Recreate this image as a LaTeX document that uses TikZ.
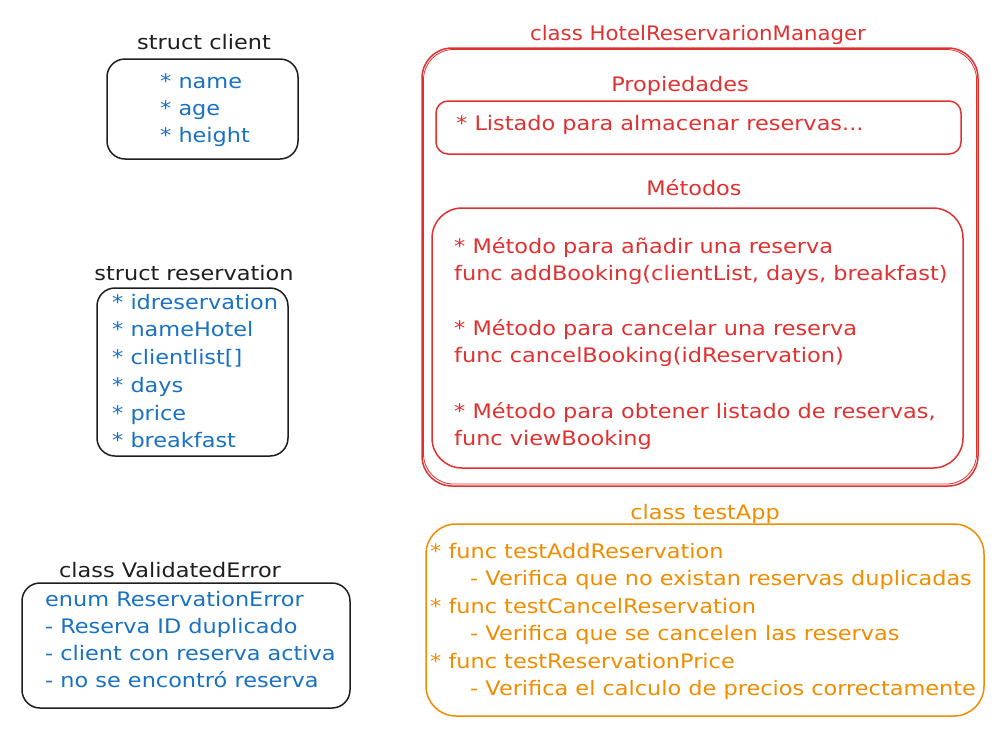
\documentclass[tikz,border=0pt]{standalone}
\usepackage{fontspec}
\setmainfont{DejaVu Sans}[FakeStretch=1.12]
\definecolor{inkblack}{HTML}{1E1E1E}
\definecolor{inkblue}{HTML}{1971C2}
\definecolor{inkred}{HTML}{E03131}
\definecolor{inkorange}{HTML}{F08C00}
\begin{document}
\begin{tikzpicture}[x=1pt,y=-1pt,
  txt/.style={anchor=base west,inner sep=0pt,font=\fontsize{20}{24}\selectfont},
  ttl/.style={anchor=base,inner sep=0pt,font=\fontsize{20}{24}\selectfont},
  sbox/.style={draw,line width=1.5pt,rounded corners=18pt},
  bbox/.style={draw,line width=1.5pt,rounded corners=30pt}]
\useasboundingbox (0,0) rectangle (1005,729);
% struct client
\node[ttl,text=inkblack] (tclient) at (204,49) {struct client};
\draw[sbox,inkblack] (107,59) rectangle (298,159);
\node[txt,text=inkblue] (c1) at (160,88) {* name};
\node[txt,text=inkblue] (c2) at (160,115) {* age};
\node[txt,text=inkblue] (c3) at (160,142) {* height};
% struct reservation
\node[ttl,text=inkblack] (tres) at (194,280) {struct reservation};
\draw[sbox,inkblack] (97,288) rectangle (288,456);
\node[txt,text=inkblue] (r1) at (112,309) {* idreservation};
\node[txt,text=inkblue] (r2) at (112,336) {* nameHotel};
\node[txt,text=inkblue] (r3) at (112,364) {* clientlist[]};
\node[txt,text=inkblue] (r4) at (112,392) {* days};
\node[txt,text=inkblue] (r5) at (112,420) {* price};
\node[txt,text=inkblue] (r6) at (112,447) {* breakfast};
% class ValidatedError
\node[ttl,text=inkblack] (tval) at (170,577) {class ValidatedError};
\draw[sbox,inkblack] (22,583) rectangle (350,708);
\node[txt,text=inkblue] (v1) at (45,606) {enum ReservationError};
\node[txt,text=inkblue] (v2) at (45,633) {- Reserva ID duplicado};
\node[txt,text=inkblue] (v3) at (45,660) {- client con reserva activa};
\node[txt,text=inkblue] (v4) at (45,687) {- no se encontró reserva};
% class HotelReservarionManager
\node[ttl,text=inkred,xscale=0.95] (thot) at (698,40) {class HotelReservarionManager};
\draw[bbox,inkred] (422,48) rectangle (978,486);
\draw[inkred,line width=0.8pt,rounded corners=30pt] (423.5,49.5) rectangle (976.5,484);
\node[ttl,text=inkred] (tprop) at (680,91) {Propiedades};
\draw[line width=1.5pt,rounded corners=12pt,inkred] (436,101) rectangle (961,154);
\node[txt,text=inkred] (p1) at (456,130) {* Listado para almacenar reservas...};
\node[ttl,text=inkred] (tmet) at (694,195) {Métodos};
\draw[bbox,inkred] (432,208) rectangle (963,468);
\node[txt,text=inkred] (m1) at (454,253) {* Método para añadir una reserva};
\node[txt,text=inkred] (m2) at (454,280) {func addBooking(clientList, days, breakfast)};
\node[txt,text=inkred] (m3) at (454,335) {* Método para cancelar una reserva};
\node[txt,text=inkred] (m4) at (454,362) {func cancelBooking(idReservation)};
\node[txt,text=inkred] (m5) at (454,418) {* Método para obtener listado de reservas,};
\node[txt,text=inkred] (m6) at (454,445) {func viewBooking};
% class testApp
\node[ttl,text=inkorange] (ttest) at (705,519) {class testApp};
\draw[bbox,inkorange] (426,524) rectangle (984,716);
\node[txt,text=inkorange] (t1) at (430,558) {* func testAddReservation};
\node[txt,text=inkorange] (t2) at (470,585) {- Verifica que no existan reservas duplicadas};
\node[txt,text=inkorange] (t3) at (430,613) {* func testCancelReservation};
\node[txt,text=inkorange] (t4) at (470,640) {- Verifica que se cancelen las reservas};
\node[txt,text=inkorange] (t5) at (430,668) {* func testReservationPrice};
\node[txt,text=inkorange] (t6) at (470,695) {- Verifica el calculo de precios correctamente};
\end{tikzpicture}
\end{document}
